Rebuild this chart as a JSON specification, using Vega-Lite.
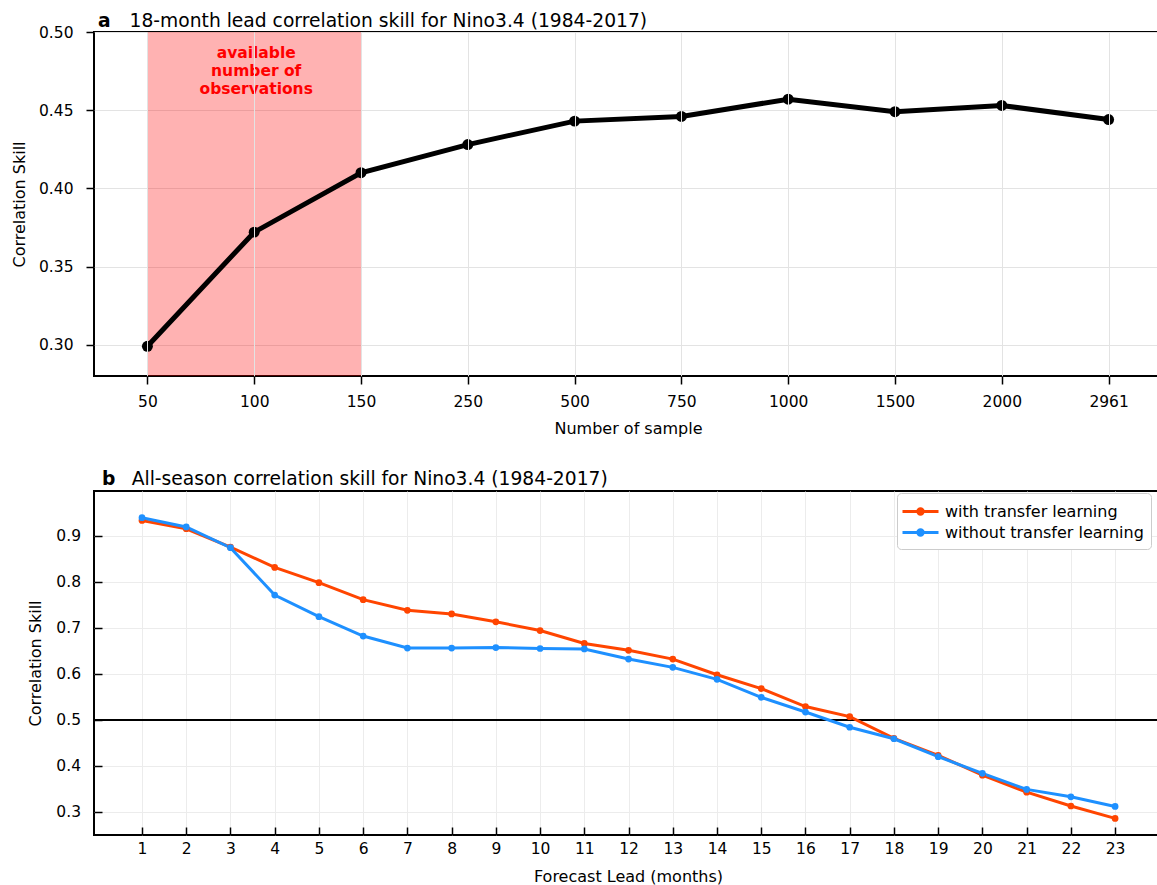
{
  "$schema": "https://vega.github.io/schema/vega-lite/v6.json",
  "padding": {"left": 10, "top": 11, "right": 0, "bottom": 0},
  "spacing": 31,
  "resolve": {"legend": {"color": "independent"}, "scale": {"color": "independent"}},
  "config": {
    "font": "DejaVu Sans",
    "view": {"stroke": "black", "strokeWidth": 2},
    "axis": {
      "domain": false,
      "labelFont": "DejaVu Sans",
      "labelFontSize": 15.5,
      "labelColor": "black",
      "titleFont": "DejaVu Sans",
      "titleFontSize": 16,
      "titleFontWeight": "normal",
      "titleColor": "black",
      "tickColor": "black",
      "tickWidth": 1.5,
      "gridColor": "#e3e3e3",
      "gridWidth": 1
    },
    "title": {"font": "DejaVu Sans", "color": "black", "subtitleColor": "black", "subtitleFont": "DejaVu Sans"}
  },
  "datasets": {
    "a": [
      {"n": 50, "skill": 0.299},
      {"n": 100, "skill": 0.372},
      {"n": 150, "skill": 0.410},
      {"n": 250, "skill": 0.428},
      {"n": 500, "skill": 0.443},
      {"n": 750, "skill": 0.446},
      {"n": 1000, "skill": 0.457},
      {"n": 1500, "skill": 0.449},
      {"n": 2000, "skill": 0.453},
      {"n": 2961, "skill": 0.444}
    ],
    "b": [
      {"lead": 1, "series": "with transfer learning", "skill": 0.933},
      {"lead": 2, "series": "with transfer learning", "skill": 0.915},
      {"lead": 3, "series": "with transfer learning", "skill": 0.875},
      {"lead": 4, "series": "with transfer learning", "skill": 0.831},
      {"lead": 5, "series": "with transfer learning", "skill": 0.798},
      {"lead": 6, "series": "with transfer learning", "skill": 0.761},
      {"lead": 7, "series": "with transfer learning", "skill": 0.738},
      {"lead": 8, "series": "with transfer learning", "skill": 0.730},
      {"lead": 9, "series": "with transfer learning", "skill": 0.713},
      {"lead": 10, "series": "with transfer learning", "skill": 0.694},
      {"lead": 11, "series": "with transfer learning", "skill": 0.666},
      {"lead": 12, "series": "with transfer learning", "skill": 0.651},
      {"lead": 13, "series": "with transfer learning", "skill": 0.632},
      {"lead": 14, "series": "with transfer learning", "skill": 0.598},
      {"lead": 15, "series": "with transfer learning", "skill": 0.568},
      {"lead": 16, "series": "with transfer learning", "skill": 0.529},
      {"lead": 17, "series": "with transfer learning", "skill": 0.507},
      {"lead": 18, "series": "with transfer learning", "skill": 0.460},
      {"lead": 19, "series": "with transfer learning", "skill": 0.423},
      {"lead": 20, "series": "with transfer learning", "skill": 0.380},
      {"lead": 21, "series": "with transfer learning", "skill": 0.343},
      {"lead": 22, "series": "with transfer learning", "skill": 0.313},
      {"lead": 23, "series": "with transfer learning", "skill": 0.286},
      {"lead": 1, "series": "without transfer learning", "skill": 0.939},
      {"lead": 2, "series": "without transfer learning", "skill": 0.919},
      {"lead": 3, "series": "without transfer learning", "skill": 0.874},
      {"lead": 4, "series": "without transfer learning", "skill": 0.771},
      {"lead": 5, "series": "without transfer learning", "skill": 0.724},
      {"lead": 6, "series": "without transfer learning", "skill": 0.682},
      {"lead": 7, "series": "without transfer learning", "skill": 0.656},
      {"lead": 8, "series": "without transfer learning", "skill": 0.656},
      {"lead": 9, "series": "without transfer learning", "skill": 0.657},
      {"lead": 10, "series": "without transfer learning", "skill": 0.655},
      {"lead": 11, "series": "without transfer learning", "skill": 0.654},
      {"lead": 12, "series": "without transfer learning", "skill": 0.632},
      {"lead": 13, "series": "without transfer learning", "skill": 0.614},
      {"lead": 14, "series": "without transfer learning", "skill": 0.588},
      {"lead": 15, "series": "without transfer learning", "skill": 0.549},
      {"lead": 16, "series": "without transfer learning", "skill": 0.517},
      {"lead": 17, "series": "without transfer learning", "skill": 0.484},
      {"lead": 18, "series": "without transfer learning", "skill": 0.459},
      {"lead": 19, "series": "without transfer learning", "skill": 0.420},
      {"lead": 20, "series": "without transfer learning", "skill": 0.384},
      {"lead": 21, "series": "without transfer learning", "skill": 0.349},
      {"lead": 22, "series": "without transfer learning", "skill": 0.333},
      {"lead": 23, "series": "without transfer learning", "skill": 0.312}
    ]
  },
  "vconcat": [
    {
      "width": 1068,
      "height": 344,
      "title": {
        "text": "a",
        "subtitle": "\u200b\u00a0\u00a0\u00a0\u00a0\u00a0\u200a18-month lead correlation skill for Nino3.4 (1984-2017)",
        "anchor": "start",
        "frame": "group",
        "fontSize": 18.7,
        "fontWeight": "bold",
        "subtitleFontSize": 18.7,
        "subtitleFontWeight": "normal",
        "subtitlePadding": -18.7,
        "dx": 4,
        "offset": -6
      },
      "data": {"name": "a"},
      "encoding": {
        "x": {
          "field": "n",
          "type": "ordinal",
          "scale": {"type": "point", "padding": 0.5},
          "axis": {"labelAngle": 0, "tickSize": 8, "labelPadding": 10, "title": "Number of sample", "titlePadding": 11, "grid": true}
        },
        "y": {
          "field": "skill",
          "type": "quantitative",
          "scale": {"domain": [0.28, 0.5], "nice": false, "zero": false},
          "axis": {"values": [0.3, 0.35, 0.4, 0.45, 0.5], "format": ".2f", "tickSize": 8, "labelPadding": 13, "title": "Correlation Skill", "titlePadding": 11}
        }
      },
      "layer": [
        {
          "data": {"values": [{}]},
          "mark": {"type": "rect", "color": "red", "opacity": 0.3},
          "encoding": {
            "x": {"datum": 50, "type": "ordinal"},
            "x2": {"datum": 150},
            "y": null
          }
        },
        {"mark": {"type": "line", "color": "black", "strokeWidth": 5}},
        {"mark": {"type": "point", "filled": true, "color": "black", "opacity": 1, "size": 120}},
        {
          "transform": [{"filter": "datum.n == 100"}],
          "mark": {"type": "text", "color": "red", "fontWeight": "bold", "fontSize": 15.5, "baseline": "top", "align": "center", "lineHeight": 18, "dx": 2, "text": ["available", "number of", "observations"]},
          "encoding": {
            "x": {"datum": 100, "type": "ordinal"},
            "y": {"datum": 0.4912, "type": "quantitative"}
          }
        }
      ]
    },
    {
      "width": 1068,
      "height": 344,
      "title": {
        "text": "b",
        "subtitle": "\u200b\u00a0\u00a0\u00a0\u00a0\u00a0All-season correlation skill for Nino3.4 (1984-2017)",
        "anchor": "start",
        "frame": "group",
        "fontSize": 18.7,
        "fontWeight": "bold",
        "subtitleFontSize": 18.7,
        "subtitleFontWeight": "normal",
        "subtitlePadding": -18.7,
        "dx": 8,
        "offset": 2
      },
      "data": {"name": "b"},
      "encoding": {
        "x": {
          "field": "lead",
          "type": "quantitative",
          "scale": {"domain": [-0.085, 24.06], "nice": false, "zero": false},
          "axis": {"values": [1,2,3,4,5,6,7,8,9,10,11,12,13,14,15,16,17,18,19,20,21,22,23], "format": "d", "tickSize": -8, "labelPadding": 14, "title": "Forecast Lead (months)", "titlePadding": 12, "grid": true, "gridColor": "#ececec"}
        },
        "y": {
          "field": "skill",
          "type": "quantitative",
          "scale": {"domain": [0.25, 0.997], "nice": false, "zero": false},
          "axis": {"values": [0.3, 0.4, 0.5, 0.6, 0.7, 0.8, 0.9], "format": ".1f", "tickSize": -8, "labelPadding": 21.5, "title": "Correlation Skill", "titlePadding": 12, "gridColor": "#ececec"}
        },
        "color": {
          "field": "series",
          "type": "nominal",
          "scale": {"domain": ["with transfer learning", "without transfer learning"], "range": ["#ff4500", "#1e90ff"]},
          "legend": {
            "title": null,
            "orient": "none",
            "legendX": 803,
            "legendY": 2,
            "fillColor": "white",
            "strokeColor": "#cccccc",
            "cornerRadius": 4,
            "padding": 7,
            "labelFontSize": 16,
            "labelColor": "black",
            "labelFont": "DejaVu Sans",
            "labelLimit": 400,
            "symbolType": "M-1.8,0H1.8M0.27,0A0.27,0.27,0,1,1,-0.27,0A0.27,0.27,0,1,1,0.27,0",
            "symbolSize": 400,
            "symbolStrokeWidth": 3,
            "symbolOffset": 5,
            "rowPadding": 0,
            "labelOffset": 13
          }
        }
      },
      "layer": [
        {
          "mark": {"type": "rule", "color": "black", "strokeWidth": 1},
          "encoding": {"y": {"datum": 0.5}, "x": null, "color": null}
        },
        {"mark": {"type": "line", "strokeWidth": 3}},
        {"mark": {"type": "point", "filled": true, "opacity": 1, "size": 45}}
      ]
    }
  ]
}
